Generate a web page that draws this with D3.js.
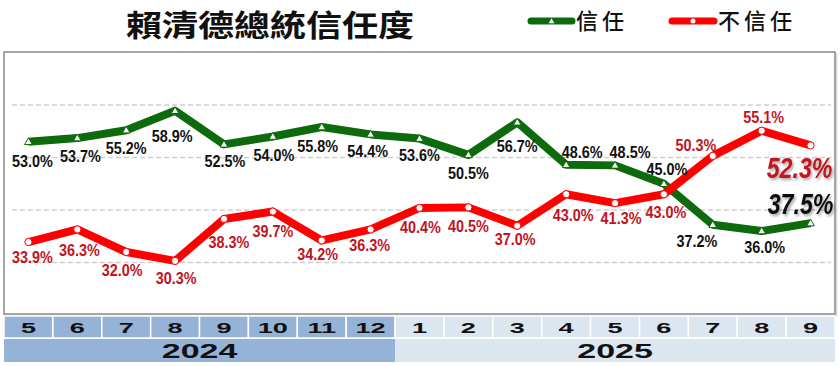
<!DOCTYPE html>
<html><head><meta charset="utf-8">
<script src="https://cdn.jsdelivr.net/npm/d3@7/dist/d3.min.js"></script>
<style>body{margin:0;background:#fff}svg{display:block}</style>
</head><body>
<script>
const months = ["5","6","7","8","9","10","11","12","1","2","3","4","5","6","7","8","9"];
const yearOfMonth = ["2024","2024","2024","2024","2024","2024","2024","2024","2025","2025","2025","2025","2025","2025","2025","2025","2025"];
const years = ["2024","2025"];
const trust = [53.0,53.7,55.2,58.9,52.5,54.0,55.8,54.4,53.6,50.5,56.7,48.6,48.5,45.0,37.2,36.0,37.5];
const distrust = [33.9,36.3,32.0,30.3,38.3,39.7,34.2,36.3,40.4,40.5,37.0,43.0,41.3,43.0,50.3,55.1,52.3];
const gridTicks = [30,40,50,60];
const seriesNames = ["信任","不信任"];
const title = "賴清德總統信任度";
// label placement (offset from point, px)
const trustLabelDx = [4,3,0,-3,1,1,-4,-3,0,0,0,16,15,3,-16,3,-10];
const trustLabelDy = [19,18,18,25,17,19,19,17,17,18,24,-13,-13,-15,16,16,-20];
const distrustLabelDx = [4,2,-4,1,5,0,-4,-1,1,0,-2,7,6,2,-17,2,-11];
const distrustLabelDy = [15,21,18,17,23,20,14,16,19,19,13,21,15,18,-11,-14,22];

const W=840,H=366;
const svg=d3.select("body").append("svg").attr("width",W).attr("height",H);
const defs=svg.append("defs");
const f=defs.append("filter").attr("id","sh").attr("x","-20%").attr("y","-20%").attr("width","150%").attr("height","160%");
f.append("feDropShadow").attr("dx",2).attr("dy",2).attr("stdDeviation",1.5).attr("flood-color","#000").attr("flood-opacity",0.35);

const L=4,R=835,T=52,B=314;
const x=d3.scaleBand().domain(d3.range(months.length)).range([L,R]).padding(0);
const cx=i=>x(i)+x.bandwidth()/2;
const y=d3.scaleLinear().domain([20,70]).range([315,52.5]);

const GREEN="#0d6b0d", RED="#ff0000", LBLRED="#c0141e";

// title
svg.append("text").attr("transform","translate(270,36) scale(1.2,1)")
  .attr("text-anchor","middle").attr("font-family","'Noto Sans CJK TC'").attr("font-weight",700)
  .attr("font-size",30).attr("fill","#111").text(title);

// legend
function legend(x0,x1,color,marker,label){
  svg.append("line").attr("x1",x0).attr("x2",x1).attr("y1",21).attr("y2",21)
    .attr("stroke",color).attr("stroke-width",7).attr("stroke-linecap","round");
  const m=(x0+x1)/2;
  if(marker==="tri") svg.append("path").attr("d",d3.symbol(d3.symbolTriangle,14)()).attr("transform",`translate(${m},21.5)`).attr("fill","#fff");
  else svg.append("circle").attr("cx",m).attr("cy",21).attr("r",2.5).attr("fill","#fff");
  svg.append("text").attr("x",x1+4).attr("y",29).attr("font-family","'Noto Sans CJK TC'").attr("font-weight",500)
    .attr("font-size",22).attr("letter-spacing",4).attr("fill","#111").text(label);
}
legend(531,572,GREEN,"tri",seriesNames[0]);
legend(672,714,RED,"circ",seriesNames[1]);

// frame
svg.append("rect").attr("x",L+1.5).attr("y",T+1.5).attr("width",R-L).attr("height",B-T).attr("fill","none").attr("stroke","#d8d8d8").attr("stroke-width",1.5);
svg.append("rect").attr("x",L).attr("y",T).attr("width",R-L).attr("height",B-T).attr("fill","#fff").attr("stroke","#8a8a8a").attr("stroke-width",1.5);

// gridlines
svg.append("g").selectAll("line").data(gridTicks).join("line")
  .attr("x1",L+8).attr("x2",R-4).attr("y1",d=>y(d)).attr("y2",d=>y(d))
  .attr("stroke","#cfcfcf").attr("stroke-width",1.5).attr("stroke-dasharray","5,3");

// lines
const line=d3.line().x((d,i)=>cx(i)).y(d=>y(d));
svg.append("path").datum(trust).attr("d",line).attr("fill","none").attr("stroke",GREEN).attr("stroke-width",8).attr("stroke-linejoin","round");
svg.append("path").datum(distrust).attr("d",line).attr("fill","none").attr("stroke",RED).attr("stroke-width",8).attr("stroke-linejoin","round");

// markers
svg.append("g").selectAll("path").data(trust).join("path")
  .attr("d",d3.symbol(d3.symbolTriangle,26)())
  .attr("transform",(d,i)=>`translate(${cx(i)},${y(d)+0.5})`)
  .attr("fill","#fff").attr("stroke",GREEN).attr("stroke-width",1);
svg.append("g").selectAll("circle").data(distrust).join("circle")
  .attr("cx",(d,i)=>cx(i)).attr("cy",d=>y(d)).attr("r",3.6)
  .attr("fill","#fff").attr("stroke",RED).attr("stroke-width",1);

// labels
function labels(data,dx,dy,color){
  const n=data.length;
  svg.append("g").selectAll("text").data(data).join("text")
    .attr("transform",(d,i)=>{
      const big=i===n-1;
      return `translate(${cx(i)+dx[i]},${y(d)+dy[i]+(big?10.5:5.8)}) scale(${big?0.8:0.9},1)`;
    })
    .attr("text-anchor","middle").attr("font-family","'Liberation Sans',Arial,sans-serif")
    .attr("font-weight","bold")
    .attr("font-style",(d,i)=>i===n-1?"italic":"normal")
    .attr("font-size",(d,i)=>i===n-1?29:16)
    .attr("filter",(d,i)=>i===n-1?"url(#sh)":null)
    .attr("fill",color).text(d=>d.toFixed(1)+"%");
}
labels(trust,trustLabelDx,trustLabelDy,"#111");
labels(distrust,distrustLabelDx,distrustLabelDy,LBLRED);

// month table
const C24="#95b3d7",C25="#dce6f1";
const mRowY=316,mRowH=22,yRowY=339,yRowH=23;
svg.append("g").selectAll("rect").data(months).join("rect")
  .attr("x",(d,i)=>x(i)).attr("y",mRowY).attr("width",x.bandwidth()).attr("height",mRowH)
  .attr("fill",(d,i)=>yearOfMonth[i]==="2024"?C24:C25).attr("stroke","#fff").attr("stroke-width",1.5);
svg.append("g").selectAll("text").data(months).join("text")
  .attr("transform",(d,i)=>`translate(${cx(i)},${mRowY+17}) scale(1.75,1)`)
  .attr("text-anchor","middle").attr("font-family","'Liberation Sans',Arial,sans-serif").attr("font-weight","bold")
  .attr("font-size",15.5).attr("fill","#111").text(d=>d);
years.forEach(yr=>{
  const idx=d3.range(months.length).filter(i=>yearOfMonth[i]===yr);
  const x0=x(idx[0]), x1=x(idx[idx.length-1])+x.bandwidth();
  svg.append("rect").attr("x",x0).attr("y",yRowY).attr("width",x1-x0).attr("height",yRowH)
    .attr("fill",yr==="2024"?C24:C25);
  svg.append("text").attr("transform",`translate(${(x0+x1)/2},${yRowY+18.5}) scale(1.7,1)`)
    .attr("text-anchor","middle").attr("font-family","'Liberation Sans',Arial,sans-serif").attr("font-weight","bold")
    .attr("font-size",20).attr("fill","#111").text(yr);
});
</script>
</body></html>
